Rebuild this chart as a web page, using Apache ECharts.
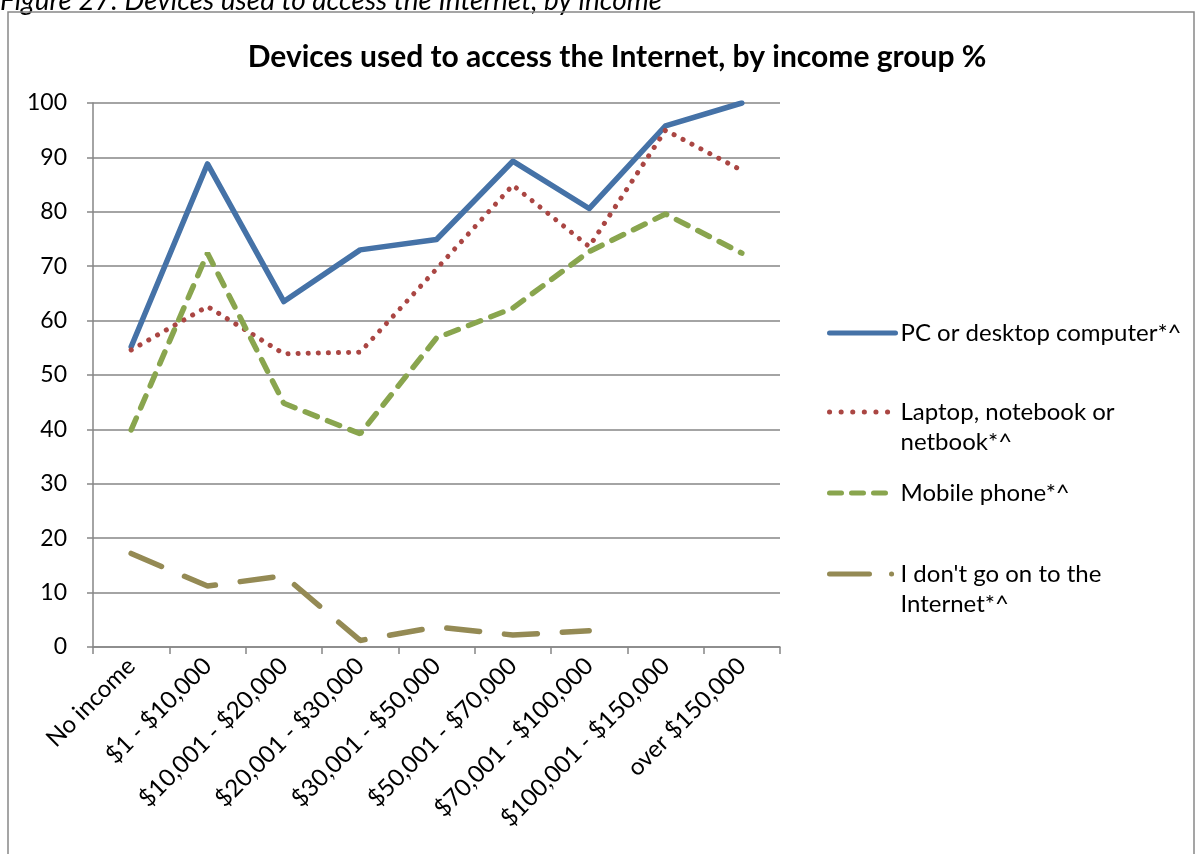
<!DOCTYPE html>
<html>
<head>
<meta charset="utf-8">
<style>
  html, body { margin: 0; padding: 0; background: #fff; }
  #chart-container { width: 1200px; height: 854px; }
</style>
<script src="https://cdn.jsdelivr.net/npm/echarts@6/dist/echarts.min.js"></script>
</head>
<body>
<div id="chart-container"></div>
<script>
var categories = ['No income', '$1 - $10,000', '$10,001 - $20,000', '$20,001 - $30,000',
    '$30,001 - $50,000', '$50,001 - $70,000', '$70,001 - $100,000', '$100,001 - $150,000', 'over $150,000'];
var pcDesktop = [55.2, 88.8, 63.5, 73.0, 74.9, 89.3, 80.6, 95.8, 100];
var laptop = [54.6, 62.6, 53.9, 54.2, 69.5, 84.9, 73.6, 95.0, 87.6];
var mobile = [39.9, 72.4, 44.8, 39.2, 56.8, 62.3, 72.7, 79.6, 72.4];
var noInternet = [17.2, 11.2, 13.1, 1.2, 3.7, 2.2, 3.0, null, null];
var seriesNames = ['PC or desktop computer*^', 'Laptop, notebook or\nnetbook*^', 'Mobile phone*^', 'I don\'t go on to the\nInternet*^'];

var dom = document.getElementById('chart-container');
var myChart = echarts.init(dom, null, { renderer: 'canvas' });

var font = 'Lato, "Open Sans", sans-serif';

// one legend per series so each can sit where the original puts it
function legendFor(name, top, dash) {
    return {
        orient: 'vertical',
        left: 822,
        top: top,
        itemWidth: 66,
        itemHeight: 14,
        data: [name],
        itemStyle: { opacity: 0, borderWidth: 0 },
        lineStyle: { width: 5, type: dash, cap: 'round' },
        formatter: function (n) {
            // blank first line keeps the icon level with the first text line
            return n.indexOf('\n') >= 0 ? ' \n' + n : n;
        },
        textStyle: {
            fontFamily: font,
            fontSize: 24,
            color: '#000',
            lineHeight: 30
        }
    };
}

var option = {
    animation: false,
    textStyle: { fontFamily: font },
    title: {
        text: 'Devices used to access the Internet, by income group %',
        left: 612,
        textAlign: 'center',
        top: 37,
        textStyle: { fontFamily: font, fontSize: 30, fontWeight: 'bold', color: '#000' }
    },
    graphic: [
        {
            type: 'text',
            left: 0,
            top: -13,
            style: {
                text: 'Figure 27: Devices used to access the Internet, by income',
                font: 'italic 28px ' + font,
                fill: '#000'
            }
        },
        {
            type: 'rect',
            shape: { x: 8, y: 12, width: 1186, height: 900 },
            style: { fill: 'none', stroke: '#888', lineWidth: 1.5 },
            silent: true
        }
    ],
    legend: [
        legendFor(seriesNames[0], 313, 'solid'),
        legendFor(seriesNames[1], 362, [0.1, 11.5]),
        legendFor(seriesNames[2], 473, [12, 10]),
        legendFor(seriesNames[3], 524, [40, 22, 0.1, 20])
    ],
    grid: { left: 93, right: 420, top: 103, bottom: 207 },
    xAxis: {
        type: 'category',
        data: categories,
        boundaryGap: true,
        axisLine: { lineStyle: { color: '#868686', width: 1.5 } },
        axisTick: { show: true, length: 7, lineStyle: { color: '#868686', width: 1.5 } },
        axisLabel: {
            interval: 0,
            rotate: 45,
            margin: 15,
            fontFamily: font,
            fontSize: 24,
            color: '#000'
        }
    },
    yAxis: {
        type: 'value',
        min: 0,
        max: 100,
        interval: 10,
        axisLine: { show: true, lineStyle: { color: '#868686', width: 1.5 } },
        axisTick: { show: true, length: 6, lineStyle: { color: '#868686', width: 1.5 } },
        axisLabel: { margin: 26, fontFamily: font, fontSize: 23, color: '#000' },
        splitLine: { lineStyle: { color: '#868686', width: 1.5 } }
    },
    series: [
        {
            name: seriesNames[0],
            type: 'line',
            data: pcDesktop,
            symbol: 'none',
            color: '#4572A7',
            lineStyle: { width: 5.5, color: '#4572A7', join: 'round', cap: 'round' }
        },
        {
            name: seriesNames[1],
            type: 'line',
            data: laptop,
            symbol: 'none',
            color: '#AA4643',
            lineStyle: { width: 5, color: '#AA4643', type: [0.1, 10], cap: 'round' }
        },
        {
            name: seriesNames[2],
            type: 'line',
            data: mobile,
            symbol: 'none',
            color: '#89A54E',
            lineStyle: { width: 5.5, color: '#89A54E', type: [13, 11], cap: 'round' }
        },
        {
            name: seriesNames[3],
            type: 'line',
            data: noInternet,
            symbol: 'none',
            color: '#948A54',
            lineStyle: { width: 5.5, color: '#948A54', type: [33, 25], cap: 'round' }
        }
    ]
};

if (option && typeof option === 'object') {
    myChart.setOption(option);
}

window.addEventListener('resize', myChart.resize);
</script>
</body>
</html>
